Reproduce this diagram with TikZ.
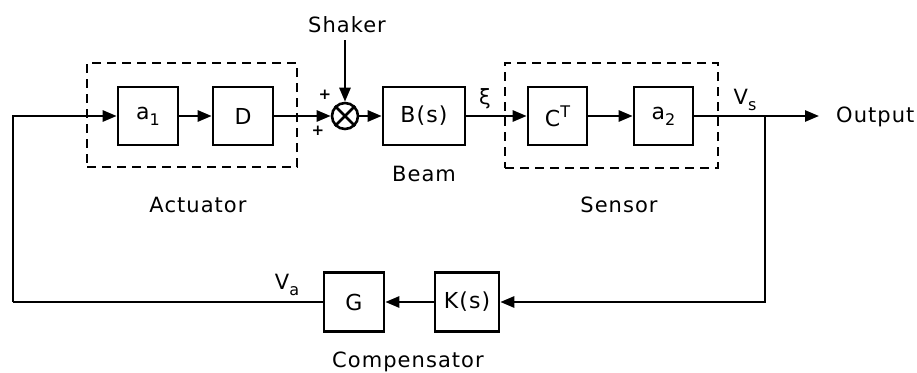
\documentclass[tikz,border=0pt]{standalone}
\usepackage{fontspec}
\setmainfont[LetterSpace=5]{DejaVu Sans}
\usetikzlibrary{arrows.meta,calc}
\newcommand\mysub[1]{\raisebox{-0.5ex}{\fontsize{16}{16}\selectfont #1}}
\newcommand\mysup[1]{\raisebox{0.75ex}{\fontsize{16}{16}\selectfont #1}}
\tikzset{
  lw/.style={line width=2.6pt},
  blk/.style={draw, lw, minimum width=60pt, minimum height=58pt, inner sep=0pt, font=\fontsize{22}{26}\selectfont},
  dbox/.style={draw, lw, dash pattern=on 9pt off 6pt, inner sep=0pt},
  lbl/.style={font=\fontsize{21}{25}\selectfont, inner sep=0pt},
  plus/.style={font=\bfseries\fontsize{15}{15}\selectfont, inner sep=0pt},
  arr/.style={lw, -{Triangle[length=14pt,width=11pt]}},
  ln/.style={lw}
}
\begin{document}
\begin{tikzpicture}[x=1pt,y=-1pt]
\useasboundingbox (0,0) rectangle (917,372);
% dashed groups
\node[dbox, minimum width=210pt, minimum height=104pt] (act) at (192,115) {};
\node[dbox, minimum width=213pt, minimum height=105pt] (sen) at (611.5,115.5) {};
% blocks
\node[blk] (a1) at (148,116) {a\mysub{1}};
\node[blk] (D) at (243,116) {D};
\node[circle, draw, lw, minimum size=26pt, inner sep=0pt] (sum) at (345,116) {};
\draw[lw] (sum.north west) -- (sum.south east) (sum.north east) -- (sum.south west);
\node[blk, minimum width=82pt] (B) at (424,116) {B(s)};
\node[blk, minimum width=59pt] (C) at (557.5,116) {C\mysup{T}};
\node[blk, minimum width=59pt] (a2) at (663.5,116) {a\mysub{2}};
\node[blk, minimum height=59pt] (G) at (354,302) {G};
\node[blk, minimum width=64pt, minimum height=59pt] (K) at (467,302) {K(s)};
% labels
\node[lbl] (shaker) at (347,25) {Shaker};
\node[lbl] (beam) at (424,174) {Beam};
\node[lbl] (actl) at (198,205) {Actuator};
\node[lbl] (senl) at (619,205) {Sensor};
\node[lbl] (comp) at (408,362) {Compensator};
\node[lbl, anchor=west] (out) at (836,117) {Output};
\node[lbl] (xi) at (485,99) {ξ};
\node[lbl] (vs) at (745,100) {V\mysub{s}};
\node[lbl] (va) at (287,285) {V\mysub{a}};
\node[plus] (p1) at (325,95) {+};
\node[plus] (p2) at (318,131) {+};
% coordinates
\coordinate (lt) at (13,116);
\coordinate (lb) at (13,302);
\coordinate (br) at (765,116);
\coordinate (bb) at (765,302);
\coordinate (oe) at (819,116);
\coordinate (sk) at (345,40);
% connectors
\draw[arr] (lb) -- (lt) -- (a1.west);
\draw[arr] (a1) -- (D);
\draw[arr] (D) -- (sum);
\draw[arr] (sk) -- (sum.north);
\draw[arr] (sum) -- (B);
\draw[arr] (B) -- (C);
\draw[arr] (C) -- (a2);
\draw[arr] (a2) -- (oe);
\draw[arr] (br) -- (bb) -- (K.east);
\draw[arr] (K) -- (G);
\draw[ln] (G.west) -- (lb);
\end{tikzpicture}
\end{document}
